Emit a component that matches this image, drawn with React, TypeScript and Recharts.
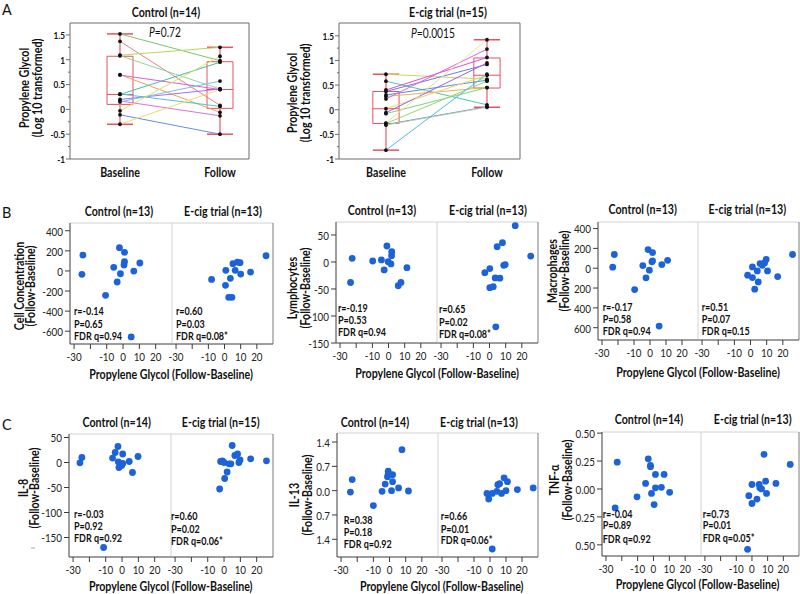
import React from "react";
import {
  ComposedChart,
  ScatterChart,
  Scatter,
  XAxis,
  YAxis,
  ReferenceLine,
  ReferenceArea,
} from "recharts";

const FONT = "Lato, 'Open Sans', sans-serif";
const SX = 0.82; // the source font is narrow, squeeze text a bit
const BLUE = "#1c62d9";
const BOX_RED = "#e8505f";
const WHISKER = "#f29aa5";
const FRAME = "#6d6d6d";
const AXIS = "#3c3c3c";
const DIVIDER = "#d2d2d2";
const OUTER = "#7a7a7a";

// ---------- panel A : propylene glycol (log10), baseline -> follow ----------
const groups = ["Baseline", "Follow"];
const aTicks = [-1, -0.75, -0.5, -0.25, 0, 0.25, 0.5, 0.75, 1, 1.25, 1.5];

const ctrlBase = [1.52, 1.37, 1.09, 1.08, 0.7, 0.69, 0.31, 0.3, 0.2, 0.17, 0.15, -0.03, -0.11, -0.3];
const ctrlFollow = [0.98, 0.08, 1.25, 0.41, -0.06, 0.4, 0.06, 0.95, 0.41, -0.13, 0.57, 1.07, -0.5, 0.4];
const ctrlColors = ["#78c86a", "#e88080", "#b9d65e", "#8fd6a4", "#f0a252", "#dd5fd6", "#4fc6d2", "#3fbfaa", "#ad6ff0", "#e06fe2", "#6fc8e0", "#e3df5e", "#5f8ff0", "#efdc6c"];
const ctrlBaseBox = [-0.3, 0.1, 0.3, 1.07, 1.52];
const ctrlFollowBox = [-0.5, 0.02, 0.4, 0.96, 1.25];

const ecigBase = [0.72, 0.58, 0.4, 0.37, 0.3, 0.27, 0.22, 0.02, -0.06, -0.08, -0.27, -0.28, -0.3, -0.31, -0.82];
const ecigFollow = [0.62, 0.1, 1.06, 0.92, 0.6, 0.45, 1.23, 0.7, 0.95, 0.45, 1.42, 0.58, 0.06, 0.05, 0.72];
const ecigColors = ["#c8d860", "#4fc8a8", "#e050d0", "#6080e8", "#5090e0", "#f0b050", "#e060e0", "#e8d860", "#a060f0", "#80d080", "#e8e890", "#90d870", "#9070e0", "#a0e0a0", "#50b8e8"];
const ecigBaseBox = [-0.82, -0.28, 0.02, 0.37, 0.72];
const ecigFollowBox = [0.05, 0.44, 0.7, 1.05, 1.42];

// ---------- panels B / C : change in marker vs change in PG ----------
const X_DOMAIN: [number, number] = [-32.5, 30];
const xTicks = [-30, -20, -10, 0, 10, 20];

const cellCtrl = [[-24.6, 158], [-25.2, -34], [-10.7, -243], [-5.7, 36], [-3.6, -110], [-2.2, 231], [-1.6, -28], [0.6, 59], [0.9, 185], [0.9, 92], [6.6, -1], [10.3, 79], [5, -657]];
const cellEcig = [[-8, -84], [0.8, 6], [0.6, -143], [2.6, -263], [4.6, -263], [3.6, -74], [5.2, 72], [6.6, 6], [8, 88], [9.6, 82], [10, -31], [16.1, -11], [25.7, 151]];
const cellTicks = [-600, -400, -200, 0, 200, 400];

const lymphCtrl = [[-22.5, 6.8], [-23.5, -38], [-9.8, 1.8], [-4.4, 3.7], [-2.7, -14.8], [-1, 29.6], [-0.2, 0.6], [1.5, -3.7], [2, 19], [1.9, 11.7], [6, -44], [7.7, -38], [11.4, -10.6]];
const lymphEcig = [[-2.9, -19.8], [0.2, -12.3], [0.2, -47.5], [2.3, -45.7], [3.5, -29.6], [4.7, 28.4], [6.4, -30], [8, 35.8], [8.8, -6.2], [9.7, -4.9], [3.9, -120], [15.9, 67.2], [25.5, 11]];
const lymphTicks = [-150, -100, -50, 0, 50];

const macroCtrl = [[-22.3, 138], [-23.3, 10], [-9.6, -215], [-4.5, 27], [-2.5, -97], [-1.2, 188], [-0.4, -20], [1.6, 158], [1.2, 64], [1.6, 74], [7.4, 37], [11, 80], [5.7, -584]];
const macroEcig = [[-1.8, -70], [1.2, 13], [1.2, -94], [2.6, -211], [4.2, -27], [4.8, -138], [5.9, 47], [7.3, 30], [8.7, 53], [9.7, 88], [10.5, -27], [16.8, -84], [26, 138]];

const il8Ctrl = [[-24.6, 10], [-25.8, -0.6], [-5.8, 8.8], [-4.2, 20], [-2.5, 32], [-2.3, 1.4], [-1.9, -10], [-0.2, -6], [0.4, -2], [0.4, 17], [4.4, 2], [6.4, -20], [9.8, 12], [-11.3, -170]];
const il8Ecig = [[-2.7, -53], [-2.1, 2], [-1, 3.4], [0, 0], [0.4, -32], [1.9, -19], [3.1, -2.6], [4.2, -2.6], [5, 34], [6.6, 14], [8.3, 17], [9.1, 0], [9.8, 5], [16.3, 7.4], [26, 3.4]];

const il13Ctrl = [[-23.1, 0.32], [-24.2, -0.04], [-10, -0.43], [-4.6, -0.02], [-2.7, 0.19], [-0.8, 0.56], [-0.8, 0.48], [-1.25, 0.4], [1.25, 0], [1.9, 0.46], [1.9, 0.26], [5.6, 0.08], [7.7, 1.18], [11.7, -0.01]];
const il13Ecig = [[-1.9, -0.08], [-0.8, -0.24], [1.4, -0.08], [4.3, -0.02], [4.9, 0.17], [6, 0.2], [7.2, -0.08], [8.8, 0.37], [10, 0], [10.9, 0.26], [17.1, 0.03], [27, 0.08], [1.4, -1.68]];
const il13Ticks = [-1.4, -0.7, 0, 0.7, 1.4];

const tnfCtrl = [[-22.9, 0.24], [-24.2, -0.17], [-10.4, -0.07], [-5, 0.05], [-3.3, 0.27], [-1.9, 0.21], [-1.9, 0.2], [-1.25, -0.04], [0.4, -0.14], [1.25, 0.13], [1.25, 0.01], [5, 0.015], [6.7, 0.13], [10.2, -0.03]];
const tnfEcig = [[-2, -0.06], [0, 0.04], [0, -0.13], [3.2, -0.09], [4.6, 0.04], [5, 0.01], [6.1, 0], [7.7, 0.31], [8.7, 0.07], [9.3, -0.04], [15.3, 0.05], [24.4, 0.22], [-2.8, -0.54]];
const tnfTicks = [-0.5, -0.25, 0, 0.25, 0.5];

function T({ x, y, s = 12, b = false, a = "middle", r = 0, sx = SX, c = "#111", children }: any) {
  return (
    <text
      transform={`translate(${x},${y}) rotate(${r}) scale(${sx},1)`}
      fontSize={s}
      fontWeight={b ? 700 : 400}
      textAnchor={a}
      dominantBaseline="central"
      fill={c}
      fontFamily={FONT}
    >
      {children}
    </text>
  );
}

const blackDot = (p: any) => <circle cx={p.cx} cy={p.cy} r={1.9} fill="#111" />;
const blueDot = (p: any) => <circle cx={p.cx} cy={p.cy} r={3.4} fill={BLUE} />;

function aTick(t: any, axisX: number) {
  const v = t.payload.value;
  const major = Math.abs(v * 2 - Math.round(v * 2)) < 1e-6;
  return (
    <g>
      <line x1={axisX - (major ? 4 : 2)} x2={axisX} y1={t.y} y2={t.y} stroke={FRAME} />
      {major && <T x={axisX - 5} y={t.y} s={10} b a="end">{String(v)}</T>}
    </g>
  );
}

function boxMarks(at: number, box: number[], k: string) {
  const hw = 0.13;
  return [
    <ReferenceLine key={k + "w1"} segment={[{ x: at, y: box[0] }, { x: at, y: box[1] }]} stroke={WHISKER} strokeWidth={2} />,
    <ReferenceLine key={k + "w2"} segment={[{ x: at, y: box[3] }, { x: at, y: box[4] }]} stroke={WHISKER} strokeWidth={2} />,
    <ReferenceLine key={k + "c1"} segment={[{ x: at - hw, y: box[0] }, { x: at + hw, y: box[0] }]} stroke={BOX_RED} strokeWidth={1.5} />,
    <ReferenceLine key={k + "c2"} segment={[{ x: at - hw, y: box[4] }, { x: at + hw, y: box[4] }]} stroke={BOX_RED} strokeWidth={1.5} />,
    <ReferenceArea key={k + "b"} x1={at - hw} x2={at + hw} y1={box[1]} y2={box[3]} fill="#fff" fillOpacity={0} stroke={BOX_RED} strokeWidth={1} />,
    <ReferenceLine key={k + "m"} segment={[{ x: at - hw, y: box[2] }, { x: at + hw, y: box[2] }]} stroke={BOX_RED} strokeWidth={1} />,
  ];
}

function PairedPanel({ left, top, w, h, xDomain, yDomain, base, follow, colors, baseBox, followBox }: any) {
  const yW = 34;
  const m = 6;
  const xH = 26;
  const axisY = m + h;
  return (
    <div style={{ position: "absolute", left: left - yW, top: top - m }}>
      <ComposedChart width={yW + w + m} height={m + h + xH} margin={{ top: m, right: m, bottom: 0, left: 0 }}>
        <XAxis
          type="number"
          dataKey="x"
          domain={xDomain}
          allowDataOverflow
          ticks={[0, 1]}
          interval={0}
          height={xH}
          axisLine={{ stroke: FRAME }}
          tickLine={false}
          tick={(t: any) => (
            <T x={t.x} y={axisY + 13} s={13} b>
              {groups[t.payload.value]}
            </T>
          )}
        />
        <YAxis
          type="number"
          dataKey="y"
          domain={yDomain}
          allowDataOverflow
          ticks={aTicks}
          interval={0}
          width={yW}
          axisLine={{ stroke: FRAME }}
          tickLine={false}
          tick={(t: any) => aTick(t, yW)}
        />
        <ReferenceLine y={yDomain[1]} stroke={FRAME} />
        <ReferenceLine x={xDomain[1]} stroke={FRAME} />
        {boxMarks(0, baseBox, "b")}
        {boxMarks(1, followBox, "f")}
        {base.map((b: number, i: number) => (
          <Scatter
            key={i}
            data={[{ x: 0, y: b }, { x: 1, y: follow[i] }]}
            line={{ stroke: colors[i], strokeWidth: 1 }}
            shape={blackDot}
            isAnimationActive={false}
          />
        ))}
      </ComposedChart>
    </div>
  );
}

function xTick(t: any, axisY: number) {
  const v = t.payload.value;
  return (
    <g>
      <line x1={t.x} x2={t.x} y1={axisY} y2={axisY + 5} stroke={AXIS} />
      {v !== -20 && <T x={t.x} y={axisY + 12} s={12} c="#222">{String(v)}</T>}
    </g>
  );
}

function yTick(t: any, axisX: number, fmt: (v: number) => string) {
  return (
    <g>
      <line x1={axisX - 5} x2={axisX} y1={t.y} y2={t.y} stroke={AXIS} />
      <T x={axisX - 7} y={t.y} s={12} a="end" c="#222">{fmt(t.payload.value)}</T>
    </g>
  );
}

function Sub({ left, top, w, h, data, yDomain, yTicks, yFmt, withY, rightColor }: any) {
  const yW = withY ? 40 : 0;
  const ml = withY ? 0 : 14; // room for the first x tick label
  const m = 8;
  const xH = 24;
  const axisY = m + h;
  const pts = data.map(([x, y]: number[]) => ({ x, y }));
  return (
    <div style={{ position: "absolute", left: left - yW - ml, top: top - m }}>
      <ScatterChart width={ml + yW + w + 3} height={m + h + xH} margin={{ top: m, right: 3, bottom: 0, left: ml }}>
        <XAxis
          type="number"
          dataKey="x"
          domain={X_DOMAIN}
          allowDataOverflow
          ticks={xTicks}
          interval={0}
          height={xH}
          axisLine={{ stroke: AXIS }}
          tickLine={false}
          tick={(t: any) => xTick(t, axisY)}
        />
        <YAxis
          type="number"
          dataKey="y"
          domain={yDomain}
          allowDataOverflow
          ticks={yTicks}
          interval={0}
          width={yW}
          hide={!withY}
          axisLine={{ stroke: AXIS }}
          tickLine={false}
          tick={(t: any) => yTick(t, yW, yFmt)}
        />
        <ReferenceLine y={yDomain[1]} stroke={DIVIDER} />
        <ReferenceLine x={X_DOMAIN[1]} stroke={rightColor} />
        <Scatter data={pts} shape={blueDot} isAnimationActive={false} />
      </ScatterChart>
    </div>
  );
}

function ScatterPanel(p: any) {
  const h = p.bottom - p.top;
  return (
    <>
      <Sub left={p.xm} top={p.top} w={p.x1 - p.xm} h={h} data={p.ecig} yDomain={p.yDomain} yTicks={p.yTicks} yFmt={p.yFmt} withY={false} rightColor={OUTER} />
      <Sub left={p.x0} top={p.top} w={p.xm - p.x0} h={h} data={p.ctrl} yDomain={p.yDomain} yTicks={p.yTicks} yFmt={p.yFmt} withY rightColor={DIVIDER} />
      <svg width={800} height={594} style={{ position: "absolute", left: 0, top: 0, pointerEvents: "none" }}>
        <T x={p.titleX[0]} y={p.titleY} s={13} b>{p.titles[0]}</T>
        <T x={p.titleX[1]} y={p.titleY} s={13} b>{p.titles[1]}</T>
        {p.ctrlStats.map((s: string, i: number) => (
          <T key={"c" + i} x={p.statX[0]} y={p.ctrlStatY[i]} s={11} b a="start">{s}</T>
        ))}
        {p.ecigStats.map((s: string, i: number) => (
          <T key={"e" + i} x={p.statX[1]} y={p.ecigStatY[i]} s={11} b a="start">{s}</T>
        ))}
        <T x={p.labelX[0]} y={p.labelY} r={-90} s={13} b>{p.yLabel}</T>
        <T x={p.labelX[1]} y={p.labelY} r={-90} s={13} b>(Follow-Baseline)</T>
        <T x={p.xLabel[0]} y={p.xLabel[1]} s={13} b>Propylene Glycol (Follow-Baseline)</T>
      </svg>
    </>
  );
}

const plain = (v: number) => String(v);
const noSign = (v: number) => String(Math.abs(v));

export default function App() {
  return (
    <div style={{ position: "absolute", left: 0, top: 0, width: 800, height: 594, background: "#fff", overflow: "hidden" }}>
      <PairedPanel left={70} top={23} w={179} h={136} xDomain={[-0.5, 1.29]} yDomain={[-1, 1.74]}
        base={ctrlBase} follow={ctrlFollow} colors={ctrlColors} baseBox={ctrlBaseBox} followBox={ctrlFollowBox} />
      <PairedPanel left={339} top={23} w={181} h={136} xDomain={[-0.465, 1.327]} yDomain={[-1, 1.76]}
        base={ecigBase} follow={ecigFollow} colors={ecigColors} baseBox={ecigBaseBox} followBox={ecigFollowBox} />

      <ScatterPanel x0={70} xm={172} x1={273} top={223} bottom={344} ctrl={cellCtrl} ecig={cellEcig}
        yDomain={[-727, 477]} yTicks={cellTicks} yFmt={plain}
        titles={["Control (n=13)", "E-cig trial (n=13)"]} titleX={[119, 223]} titleY={211.5}
        ctrlStats={["r=-0.14", "P=0.65", "FDR q=0.94"]} ecigStats={["r=0.60", "P=0.03", "FDR q=0.08*"]}
        statX={[74, 176]} ctrlStatY={[310.7, 323.3, 335.5]} ecigStatY={[310.7, 323.3, 335.5]}
        yLabel="Cell Concentration" labelX={[19, 30.5]} labelY={286} xLabel={[171, 374]} />
      <ScatterPanel x0={336} xm={437} x1={538} top={222} bottom={343} ctrl={lymphCtrl} ecig={lymphEcig}
        yDomain={[-150, 74]} yTicks={lymphTicks} yFmt={plain}
        titles={["Control (n=13)", "E-cig trial (n=13)"]} titleX={[382, 488]} titleY={210}
        ctrlStats={["r=-0.19", "P=0.53", "FDR q=0.94"]} ecigStats={["r=0.65", "P=0.02", "FDR q=0.08*"]}
        statX={[338, 439]} ctrlStatY={[307.3, 319.3, 332]} ecigStatY={[309, 321.7, 334]}
        yLabel="Lymphocytes" labelX={[292.5, 305]} labelY={288} xLabel={[437, 373.3]} />
      <ScatterPanel x0={598} xm={698} x1={799} top={222} bottom={340} ctrl={macroCtrl} ecig={macroEcig}
        yDomain={[-724, 466]} yTicks={cellTicks} yFmt={noSign}
        titles={["Control (n=13)", "E-cig trial (n=13)"]} titleX={[642.7, 747.3]} titleY={209.3}
        ctrlStats={["r=-0.17", "P=0.58", "FDR q=0.94"]} ecigStats={["r=0.51", "P=0.07", "FDR q=0.15"]}
        statX={[602.7, 701.7]} ctrlStatY={[306.7, 318.7, 331]} ecigStatY={[306.7, 318.7, 331]}
        yLabel="Macrophages" labelX={[551.7, 564]} labelY={271} xLabel={[698, 372.3]} />

      <ScatterPanel x0={69} xm={171} x1={273} top={434} bottom={557} ctrl={il8Ctrl} ecig={il8Ecig}
        yDomain={[-189, 57]} yTicks={lymphTicks} yFmt={plain}
        titles={["Control (n=14)", "E-cig trial (n=15)"]} titleX={[116.7, 220.7]} titleY={421.7}
        ctrlStats={["r=-0.03", "P=0.92", "FDR q=0.92"]} ecigStats={["r=0.60", "P=0.02", "FDR q=0.06*"]}
        statX={[74, 171]} ctrlStatY={[513.7, 525.7, 537.7]} ecigStatY={[516, 528.3, 540.3]}
        yLabel="IL-8" labelX={[23.3, 34]} labelY={488} xLabel={[170.7, 586]} />
      <ScatterPanel x0={337} xm={438} x1={538} top={433} bottom={557} ctrl={il13Ctrl} ecig={il13Ecig}
        yDomain={[-1.91, 1.66]} yTicks={il13Ticks} yFmt={(v: number) => Math.abs(v).toFixed(1)}
        titles={["Control (n=14)", "E-cig trial (n=13)"]} titleX={[375, 479]} titleY={421.7}
        ctrlStats={["R=0.38", "P=0.18", "FDR q=0.92"]} ecigStats={["r=0.66", "P=0.01", "FDR q=0.06*"]}
        statX={[343.7, 440.7]} ctrlStatY={[520, 531.7, 543.7]} ecigStatY={[516, 528.3, 540]}
        yLabel="IL-13" labelX={[294, 307.5]} labelY={495} xLabel={[441.7, 586.3]} />
      <ScatterPanel x0={602} xm={701} x1={799} top={432} bottom={556} ctrl={tnfCtrl} ecig={tnfEcig}
        yDomain={[-0.6, 0.51]} yTicks={tnfTicks} yFmt={(v: number) => Math.abs(v).toFixed(2)}
        titles={["Control (n=14)", "E-cig trial (n=13)"]} titleX={[649, 752.7]} titleY={419.3}
        ctrlStats={["r=-0.04", "P=0.89", "FDR q=0.92"]} ecigStats={["r=0.73", "P=0.01", "FDR q=0.05*"]}
        statX={[602.7, 702.7]} ctrlStatY={[513.3, 525, 539]} ecigStatY={[513.3, 525, 537.3]}
        yLabel="TNF-α" labelX={[554, 567]} labelY={480} xLabel={[697.5, 584.3]} />

      <svg width={800} height={594} style={{ position: "absolute", left: 0, top: 0, pointerEvents: "none" }}>
        <T x={2} y={9} s={16} a="start" sx={0.9}>A</T>
        <T x={2} y={212} s={16} a="start" sx={0.9}>B</T>
        <T x={2} y={424} s={16} a="start" sx={0.9}>C</T>
        <T x={166} y={12} s={13} b>Control (n=14)</T>
        <T x={448} y={12} s={13} b>E-cig trial (n=15)</T>
        <T x={165} y={32} s={12.5}><tspan fontStyle="italic">P</tspan>=0.72</T>
        <T x={433} y={33} s={12.5}><tspan fontStyle="italic">P</tspan>=0.0015</T>
        <T x={24} y={88} r={-90} s={13} b>Propylene Glycol</T>
        <T x={37} y={88} r={-90} s={13} b>(Log 10 transformed)</T>
        <T x={292} y={93} r={-90} s={13} b>Propylene Glycol</T>
        <T x={305} y={93} r={-90} s={13} b>(Log 10 transformed)</T>
        <line x1={31} x2={35} y1={548} y2={548} stroke="#aaa" />
      </svg>
    </div>
  );
}
